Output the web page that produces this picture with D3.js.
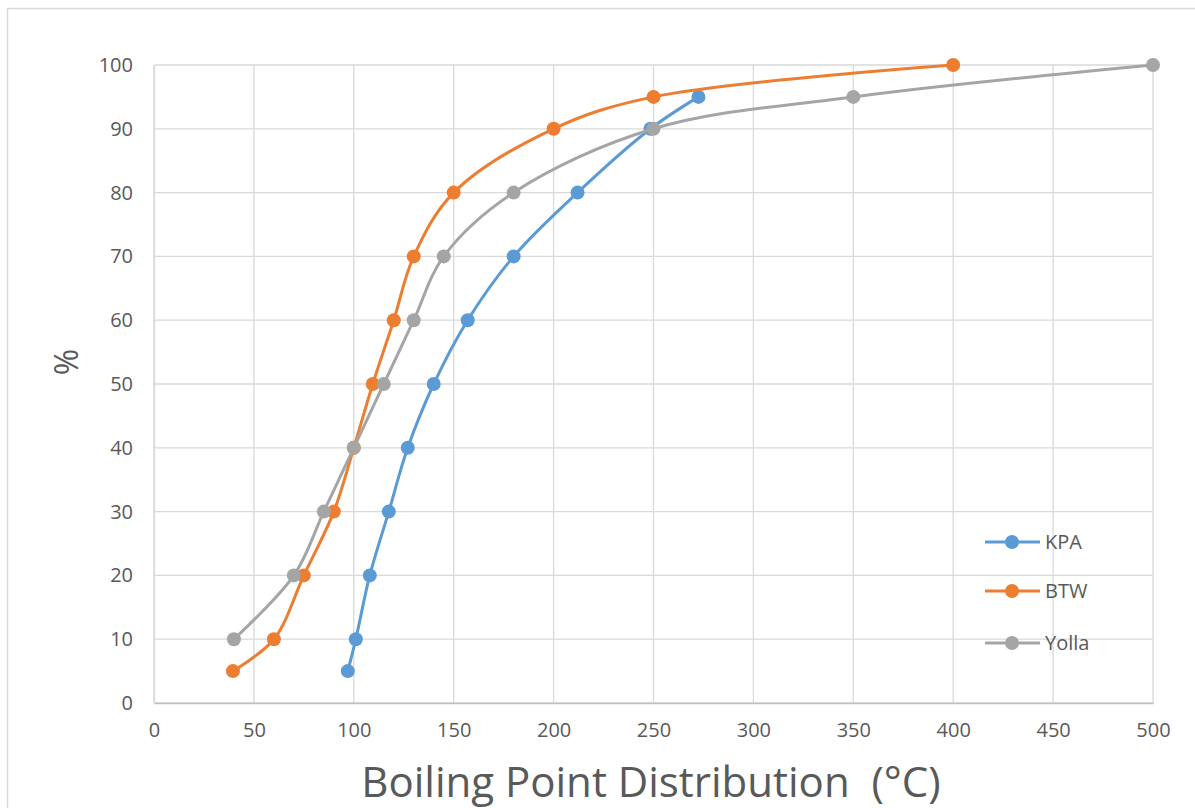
<!DOCTYPE html>
<html>
<head>
<meta charset="utf-8">
<script src="https://cdn.jsdelivr.net/npm/d3@7"></script>
<style>
  html, body { margin: 0; padding: 0; background: #fff; }
  svg { display: block; }
  text { font-family: "Open Sans", "Noto Sans", sans-serif; fill: #595959; }
</style>
</head>
<body>
<svg id="chart" width="1195" height="808"></svg>
<script>
// ---- data ----
const seriesNames = ["KPA", "BTW", "Yolla"];
const kpaTemp   = [97, 101, 108, 117.5, 127, 140, 157, 180, 212, 248.5, 272.5];
const kpaPct    = [5, 10, 20, 30, 40, 50, 60, 70, 80, 90, 95];
const btwTemp   = [39.5, 60, 75, 90, 100, 109.5, 120, 130, 150, 200, 250, 400];
const btwPct    = [5, 10, 20, 30, 40, 50, 60, 70, 80, 90, 95, 100];
const yollaTemp = [40, 70, 85, 100, 115, 130, 145, 180, 250, 350, 500];
const yollaPct  = [10, 20, 30, 40, 50, 60, 70, 80, 90, 95, 100];
const xTicks = [0, 50, 100, 150, 200, 250, 300, 350, 400, 450, 500];
const yTicks = [0, 10, 20, 30, 40, 50, 60, 70, 80, 90, 100];
const xTitle = "Boiling Point Distribution  (\u00B0C)";
const yTitle = "%";

const colors = ["#5B9BD5", "#ED7D31", "#A5A5A5"];
const series = [
  { name: seriesNames[0], pts: kpaTemp.map((t, i) => [t, kpaPct[i]]) },
  { name: seriesNames[1], pts: btwTemp.map((t, i) => [t, btwPct[i]]) },
  { name: seriesNames[2], pts: yollaTemp.map((t, i) => [t, yollaPct[i]]) }
];

const svg = d3.select("#chart");
const W = 1195, H = 808;

// outer chart border
svg.append("rect").attr("x", 7.5).attr("y", 8.5).attr("width", W).attr("height", H)
  .attr("fill", "none").attr("stroke", "#D9D9D9").attr("stroke-width", 1.5);

const plot = { left: 154, right: 1153, top: 65, bottom: 703 };
const x = d3.scaleLinear().domain([0, 500]).range([plot.left, plot.right]);
const y = d3.scaleLinear().domain([0, 100]).range([plot.bottom, plot.top]);

// gridlines
const grid = svg.append("g");
grid.selectAll("line.v").data(xTicks).join("line")
  .attr("x1", d => x(d)).attr("x2", d => x(d))
  .attr("y1", plot.top).attr("y2", plot.bottom)
  .attr("stroke", "#D9D9D9").attr("stroke-width", 1.3);
grid.selectAll("line.h").data(yTicks).join("line")
  .attr("x1", plot.left).attr("x2", plot.right)
  .attr("y1", d => y(d)).attr("y2", d => y(d))
  .attr("stroke", "#D9D9D9").attr("stroke-width", 1.3);

// axes (labels only)
const xAxis = svg.append("g").attr("transform", `translate(0,${plot.bottom})`)
  .call(d3.axisBottom(x).tickValues(xTicks).tickSize(0).tickPadding(20).tickFormat(d3.format("d")));
xAxis.select(".domain").attr("stroke", "#BFBFBF").attr("stroke-width", 1.3);
xAxis.selectAll("text").attr("font-size", 20).style("font-family", "'Open Sans', sans-serif").attr("fill", "#595959");

const yAxis = svg.append("g").attr("transform", `translate(${plot.left},0)`)
  .call(d3.axisLeft(y).tickValues(yTicks).tickSize(0).tickPadding(21).tickFormat(d3.format("d")));
yAxis.select(".domain").attr("stroke", "#D9D9D9").attr("stroke-width", 1.3);
yAxis.selectAll("text").attr("font-size", 20).style("font-family", "'Open Sans', sans-serif").attr("fill", "#595959");

// series
const line = d3.line().x(d => x(d[0])).y(d => y(d[1])).curve(d3.curveCatmullRom.alpha(0.5));
series.forEach((s, i) => {
  const g = svg.append("g");
  g.append("path").attr("d", line(s.pts)).attr("fill", "none")
    .attr("stroke", colors[i]).attr("stroke-width", 3).attr("stroke-linejoin", "round");
  g.selectAll("circle").data(s.pts).join("circle")
    .attr("cx", d => x(d[0])).attr("cy", d => y(d[1])).attr("r", 7)
    .attr("fill", colors[i]);
});

// legend
const legend = svg.append("g");
const legY = [542, 591, 643];
series.forEach((s, i) => {
  const g = legend.append("g").attr("transform", `translate(985,${legY[i]})`);
  g.append("line").attr("x1", 0).attr("x2", 55).attr("y1", 0).attr("y2", 0)
    .attr("stroke", colors[i]).attr("stroke-width", 3);
  g.append("circle").attr("cx", 27).attr("cy", 0).attr("r", 7).attr("fill", colors[i]);
  g.append("text").attr("x", 60).attr("y", 0).attr("dy", "0.35em")
    .attr("font-size", 20).text(s.name);
});

// axis titles
svg.append("text").attr("x", 651).attr("y", 797).attr("text-anchor", "middle")
  .style("white-space", "pre").attr("xml:space", "preserve")
  .attr("font-size", 42).text(xTitle);
svg.append("text").attr("transform", "translate(67,362) rotate(-90)")
  .attr("text-anchor", "middle").attr("dy", "0.35em").attr("font-size", 32).text(yTitle);
</script>
</body>
</html>
